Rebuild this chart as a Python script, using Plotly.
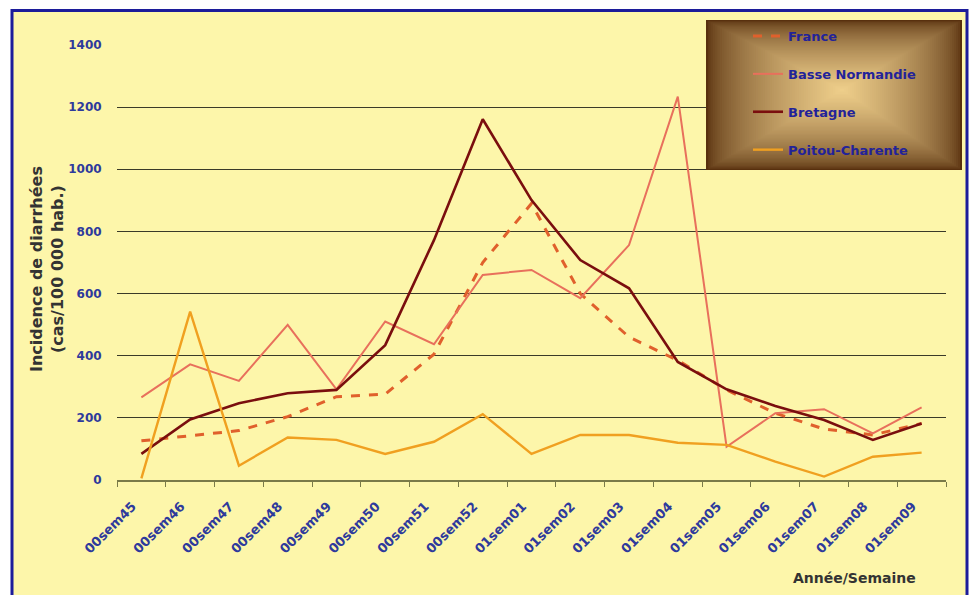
import plotly.graph_objects as go

# Weekly incidence of diarrhoea (cases per 100 000 inhabitants)
weeks = ["00sem45", "00sem46", "00sem47", "00sem48", "00sem49", "00sem50",
         "00sem51", "00sem52", "01sem01", "01sem02", "01sem03", "01sem04",
         "01sem05", "01sem06", "01sem07", "01sem08", "01sem09"]
france = [126, 142, 159, 204, 268, 276, 405, 700, 890, 600, 460, 385,
          290, 215, 164, 145, 182]
basse_normandie = [266, 372, 319, 499, 292, 510, 437, 660, 676, 585, 756, 1234,
                   107, 215, 228, 150, 234]
bretagne = [84, 195, 247, 279, 290, 434, 772, 1161, 901, 708, 617, 380,
            292, 238, 193, 129, 182]
poitou_charente = [5, 542, 46, 137, 129, 84, 123, 212, 84, 145, 145, 120,
                   113, 59, 11, 75, 88]
y_ticks = [0, 200, 400, 600, 800, 1000, 1200, 1400]

W, H = 973, 595
ML, MR, MT, MB = 117, 27, 45, 115
PW, PH = W - ML - MR, H - MT - MB


def px(x):
    return (x - ML) / PW


def py(y):
    return (H - MB - y) / PH


FONT = "DejaVu Sans"
BLUE_TXT = "#2e3a9c"

fig = go.Figure()

series = [
    ("France", france, dict(color="#e0602c", width=3, dash="dash")),
    ("Basse Normandie", basse_normandie, dict(color="#e8705c", width=2)),
    ("Bretagne", bretagne, dict(color="#7a0e0e", width=2.6)),
    ("Poitou-Charente", poitou_charente, dict(color="#f0a020", width=2.4)),
]
for name, vals, line in series:
    fig.add_trace(go.Scatter(x=weeks, y=vals, name=name, mode="lines",
                             line=line, legendgroup=name))

shapes = []
# page frame
shapes.append(dict(type="rect", xref="paper", yref="paper",
                   x0=px(12), x1=px(967), y0=py(600), y1=py(10.5),
                   fillcolor="#fdf6aa", line=dict(color="#1c1c9a", width=3),
                   layer="below"))

# legend panel with a radial-ish brown gradient
bx0, bx1, by0, by1 = 706, 962, 20, 170
cx, cy = 842, 90
outer = (88, 48, 14)
inner = (240, 208, 140)
N = 60
for k in range(N):
    t = k / N
    e = t ** 0.6
    col = tuple(int(outer[i] + (inner[i] - outer[i]) * e) for i in range(3))
    shapes.append(dict(type="rect", xref="paper", yref="paper",
                       x0=px(bx0 + t * (cx - bx0)), x1=px(bx1 - t * (bx1 - cx)),
                       y0=py(by1 - t * (by1 - cy)), y1=py(by0 + t * (cy - by0)),
                       fillcolor="rgb(%d,%d,%d)" % col, line=dict(width=0),
                       layer="above"))

annotations = [
    dict(text="Incidence de diarrhées<br>(cas/100 000 hab.)", xref="paper", yref="paper",
         x=px(47), y=py(269), textangle=-90, showarrow=False,
         font=dict(family=FONT, size=16, color="#333333", weight="bold"),
         xanchor="center", yanchor="middle"),
    dict(text="Année/Semaine", xref="paper", yref="paper",
         x=px(918), y=py(578), showarrow=False,
         font=dict(family=FONT, size=14, color="#333333", weight="bold"),
         xanchor="right", yanchor="middle"),
]

fig.update_layout(
    width=W, height=H,
    margin=dict(l=ML, r=MR, t=MT, b=MB),
    paper_bgcolor="white",
    plot_bgcolor="rgba(0,0,0,0)",
    shapes=shapes,
    annotations=annotations,
    showlegend=True,
    legend=dict(x=px(748), y=py(21), xanchor="left", yanchor="top",
                bgcolor="rgba(0,0,0,0)", tracegroupgap=18,
                font=dict(family=FONT, size=13, color="#22229a", weight="bold")),
    xaxis=dict(type="category", categoryorder="array", categoryarray=weeks,
               range=[-0.5, len(weeks) - 0.5],
               showline=True, linecolor="#7a7a48", linewidth=1.5,
               ticks="outside", tickson="boundaries", ticklen=5,
               tickcolor="#7a7a48", tickwidth=1.2,
               tickangle=-45, showgrid=False,
               ticklabelstandoff=12, ticklabelshift=-9,
               tickfont=dict(family=FONT, size=13, color=BLUE_TXT, weight="bold")),
    yaxis=dict(range=[0, 1400], tickvals=y_ticks, showgrid=True,
               gridcolor="#3a3a28", gridwidth=1.4, zeroline=False,
               showline=False, ticks="outside", ticklen=12,
               tickcolor="rgba(0,0,0,0)",
               tickfont=dict(family=FONT, size=12, color=BLUE_TXT, weight="bold")),
)

fig.write_html("out.html")
